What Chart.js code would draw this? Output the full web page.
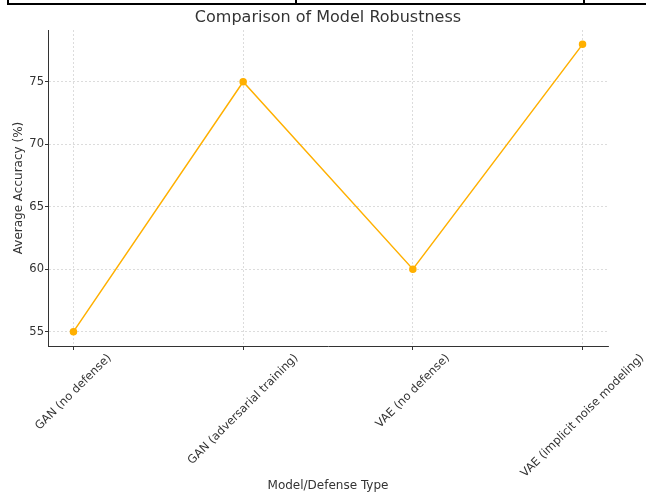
<!DOCTYPE html>
<html>
<head>
<meta charset="utf-8">
<script src="https://cdn.jsdelivr.net/npm/chart.js@4"></script>
<style>
  html, body { margin: 0; padding: 0; background: #fff; }
  #wrap { position: relative; width: 646px; height: 493px; }
  #frame { position: absolute; left: 7px; top: 0; width: 639px; height: 3px; border-bottom: 2px solid #000; }
  .vbar { position: absolute; top: 0; width: 2px; height: 5px; background: #000; }
</style>
</head>
<body>
<div id="wrap">
  <canvas id="chart" width="646" height="493"></canvas>
  <div id="frame"></div>
  <div class="vbar" style="left:7px"></div>
  <div class="vbar" style="left:295px"></div>
  <div class="vbar" style="left:583px"></div>
</div>
<script>
const categories = [
  "GAN (no defense)",
  "GAN (adversarial training)",
  "VAE (no defense)",
  "VAE (implicit noise modeling)",
];
const accuracy = [55, 75, 60, 78];
const yTicks = [55, 60, 65, 70, 75];
const titleText = "Comparison of Model Robustness";

const FONT = "'DejaVu Sans', sans-serif";
const TEXT = "#333333";

// title centred over the plot area, x labels rotated 45deg and centred on the tick
const extras = {
  id: "extras",
  afterDraw(chart) {
    const ctx = chart.ctx;
    const area = chart.chartArea;
    const xs = chart.scales.x;
    ctx.save();
    ctx.fillStyle = TEXT;
    ctx.textAlign = "center";
    ctx.textBaseline = "middle";
    ctx.font = "16px " + FONT;
    ctx.fillText(titleText, (area.left + area.right) / 2, 18);

    ctx.font = "11.5px " + FONT;
    const top = area.bottom + 6;
    categories.forEach((label, i) => {
      const w = ctx.measureText(label).width;
      const half = (w + 12) * Math.SQRT1_2 / 2;
      ctx.save();
      ctx.translate(xs.getPixelForValue(i), top + half);
      ctx.rotate(-Math.PI / 4);
      ctx.fillText(label, 0, 0);
      ctx.restore();
    });
    ctx.restore();
  },
};

new Chart(document.getElementById("chart"), {
  type: "line",
  data: {
    datasets: [{
      data: accuracy.map((v, i) => ({ x: i, y: v })),
      borderColor: "#ffb000",
      backgroundColor: "#ffb000",
      borderWidth: 1.5,
      pointRadius: 3,
      pointHoverRadius: 3,
      tension: 0,
    }],
  },
  options: {
    responsive: false,
    animation: false,
    layout: { padding: { left: 10, right: 38, top: 30, bottom: 0 } },
    plugins: {
      legend: { display: false },
      tooltip: { enabled: false },
      title: { display: false },
    },
    scales: {
      x: {
        type: "linear",
        min: -0.15,
        max: 3.15,
        afterBuildTicks: (s) => { s.ticks = categories.map((_, i) => ({ value: i })); },
        afterFit: (s) => { s.height = 147; },
        ticks: { display: false },
        grid: { color: "#d4d4d4", lineWidth: 0.8, tickLength: 4, tickColor: TEXT, tickWidth: 1 },
        border: { display: true, color: TEXT, width: 1, dash: [2, 2] },
        title: {
          display: true,
          text: "Model/Defense Type",
          color: TEXT,
          font: { family: FONT, size: 12 },
          padding: { top: 2, bottom: 0 },
        },
      },
      y: {
        min: 53.85,
        max: 79.15,
        afterBuildTicks: (s) => { s.ticks = yTicks.map((v) => ({ value: v })); },
        afterFit: (s) => { s.width = 38; },
        ticks: { color: TEXT, font: { family: FONT, size: 11.5 }, padding: 1 },
        grid: { color: "#d4d4d4", lineWidth: 0.8, tickLength: 3, tickColor: TEXT, tickWidth: 1 },
        border: { display: true, color: TEXT, width: 1, dash: [2, 2] },
        title: {
          display: true,
          text: "Average Accuracy (%)",
          color: TEXT,
          font: { family: FONT, size: 12 },
          padding: { top: 2, bottom: 0 },
        },
      },
    },
  },
  plugins: [extras],
});
</script>
</body>
</html>
